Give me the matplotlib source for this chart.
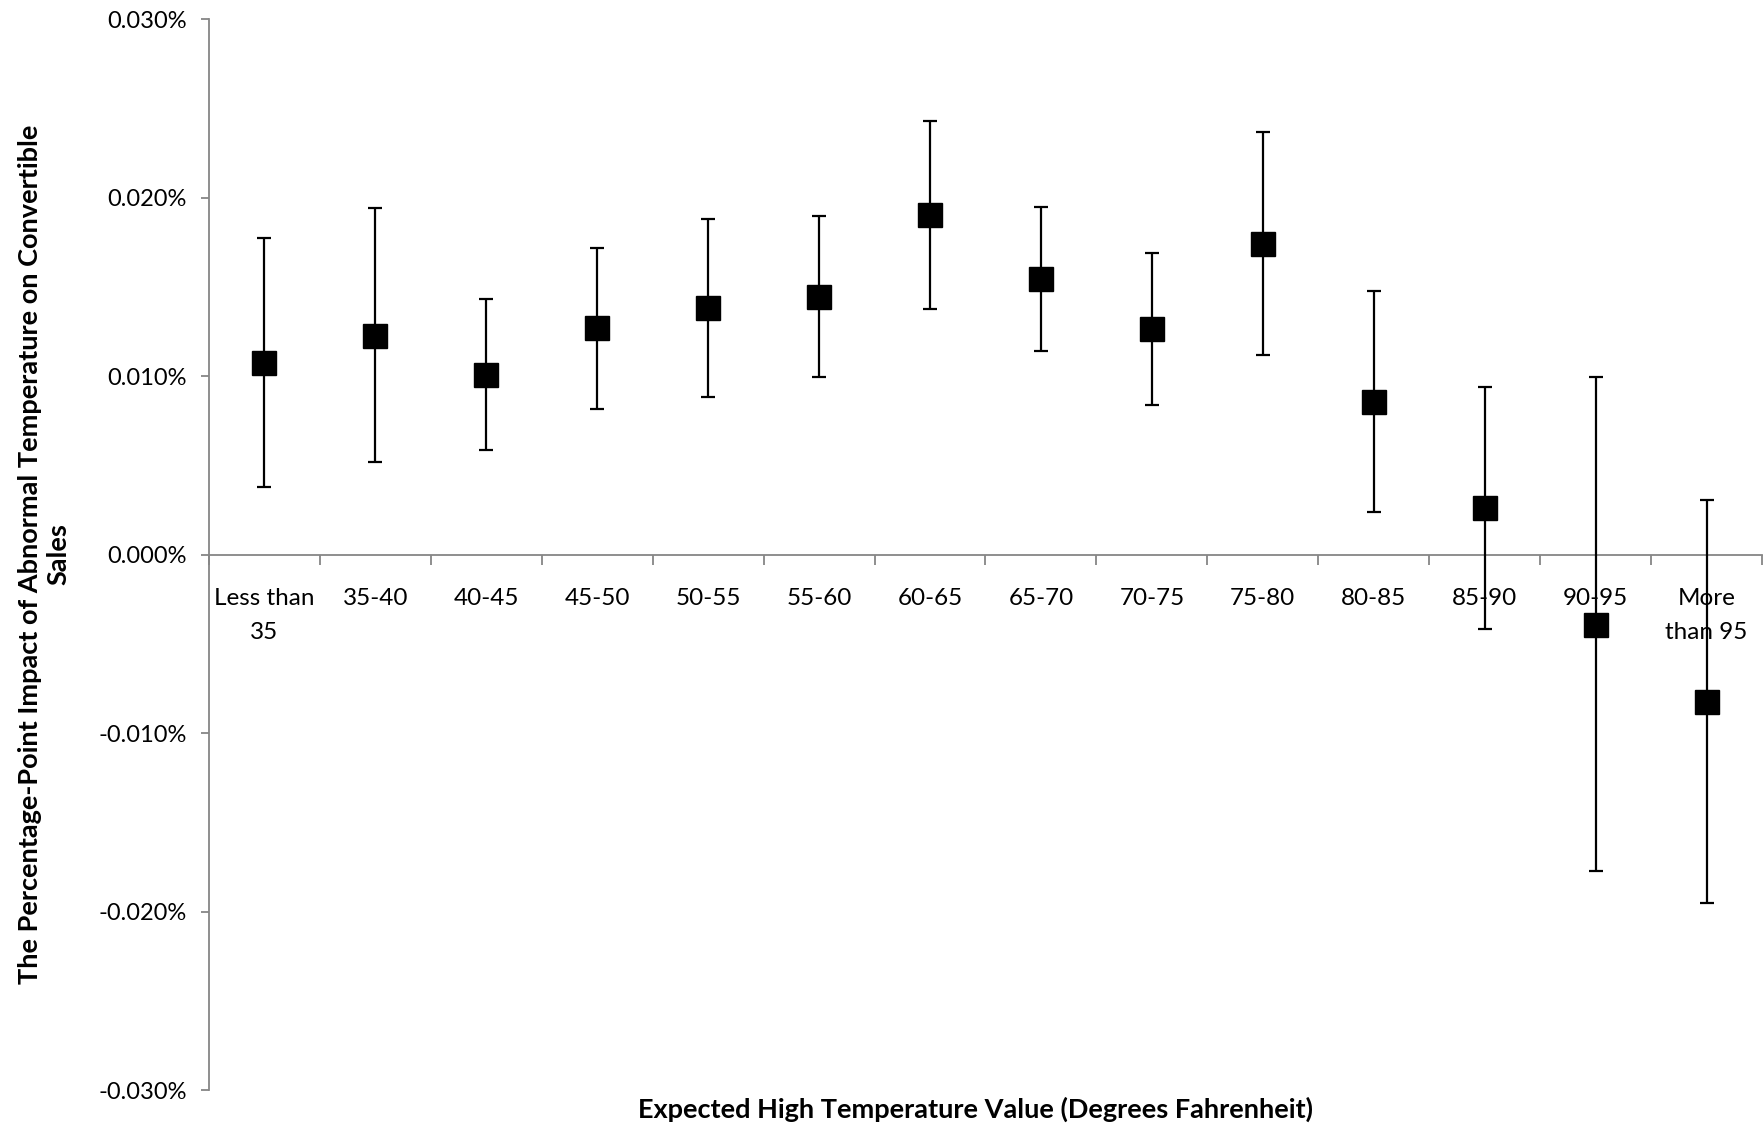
import matplotlib
matplotlib.use("Agg")
import matplotlib.pyplot as plt
from matplotlib.ticker import FuncFormatter, FixedLocator

# categories and values (in percent)
categories = ["Less than\n35", "35-40", "40-45", "45-50", "50-55", "55-60", "60-65",
              "65-70", "70-75", "75-80", "80-85", "85-90", "90-95", "More\nthan 95"]
estimate = [0.01075, 0.01227, 0.01008, 0.01268, 0.01383, 0.01445, 0.01902,
            0.01546, 0.01265, 0.01741, 0.00856, 0.00260, -0.00392, -0.00824]
upper = [0.01771, 0.01940, 0.01430, 0.01717, 0.01882, 0.01897, 0.02428,
         0.01946, 0.01692, 0.02366, 0.01476, 0.00937, 0.00995, 0.00306]
lower = [0.00377, 0.00516, 0.00586, 0.00816, 0.00880, 0.00992, 0.01375,
         0.01141, 0.00839, 0.01116, 0.00238, -0.00418, -0.01773, -0.01954]
yticks = [-0.03, -0.02, -0.01, 0.0, 0.01, 0.02, 0.03]

plt.rcParams['font.family'] = ['Lato', 'DejaVu Sans']

fig = plt.figure(figsize=(17.65, 11.27), dpi=100)
ax = fig.add_axes([0.1184, 0.0328, 0.8799, 0.9503])

x = [i + 0.5 for i in range(len(categories))]
err_lo = [e - l for e, l in zip(estimate, lower)]
err_hi = [u - e for e, u in zip(estimate, upper)]
ax.errorbar(x, estimate, yerr=[err_lo, err_hi], fmt='s', color='black',
            ecolor='black', elinewidth=1.6, capsize=5, capthick=1.6,
            markersize=17, zorder=3, clip_on=False)

ax.set_xlim(0, len(categories))
ax.set_ylim(-0.03, 0.03)

grey = '#868686'
for s in ['top', 'right']:
    ax.spines[s].set_visible(False)
ax.spines['bottom'].set_position(('data', 0))
ax.spines['bottom'].set_color(grey)
ax.spines['left'].set_color(grey)
ax.spines['bottom'].set_linewidth(1.3)
ax.spines['left'].set_linewidth(1.3)

ax.set_yticks(yticks)
ax.yaxis.set_major_formatter(FuncFormatter(lambda v, p: f"{v:.3f}%"))
ax.tick_params(axis='y', direction='out', length=6, width=1.3, color=grey,
               labelsize=17, pad=10)

ax.xaxis.set_major_locator(FixedLocator(range(len(categories) + 1)))
ax.xaxis.set_minor_locator(FixedLocator(x))
ax.set_xticklabels([], minor=False)
ax.set_xticklabels(categories, minor=True)
ax.tick_params(axis='x', which='major', direction='out', length=7, width=1.3,
               color=grey)
ax.tick_params(axis='x', which='minor', length=0, labelsize=17.5, pad=24)
for lab in ax.get_xticklabels(minor=True):
    lab.set_linespacing(1.75)
    lab.set_verticalalignment('top')

ax.set_ylabel("The Percentage-Point Impact of Abnormal Temperature on Convertible\nSales",
              fontsize=19.5, fontweight='bold', labelpad=20, linespacing=1.2)
fig.text(0.5525, 0.004, "Expected High Temperature Value (Degrees Fahrenheit)",
         ha='center', va='bottom', fontsize=19.5, fontweight='bold')

fig.savefig("out.png", dpi=100)
